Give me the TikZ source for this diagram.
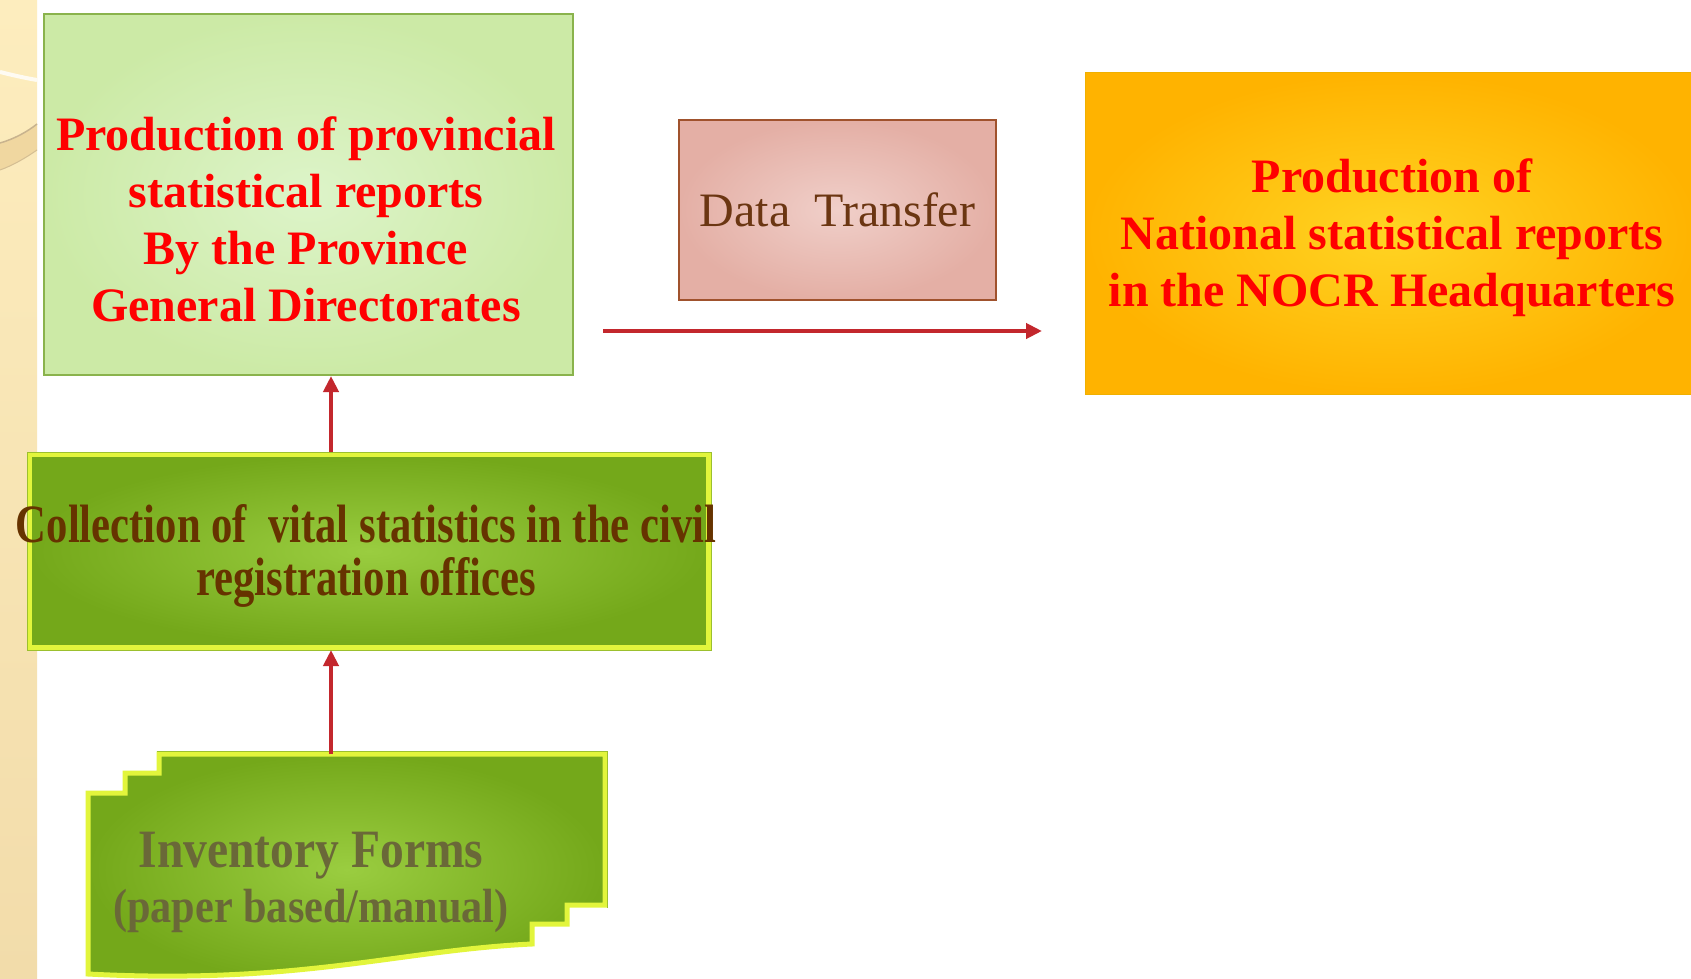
\documentclass[tikz,border=0pt]{standalone}
\usepackage{fontspec}
\setmainfont{Liberation Serif}
\newfontfamily\collfont{Liberation Serif}[FakeStretch=0.79]
\newfontfamily\invfont{Liberation Serif}[FakeStretch=0.88]
\usetikzlibrary{arrows.meta}
\definecolor{stripTop}{HTML}{FDEDBE}
\definecolor{stripBot}{HTML}{F2DCAA}
\definecolor{bandTan}{HTML}{F0D7A0}
\definecolor{bandEdge}{HTML}{C8B38E}
\definecolor{provIn}{HTML}{DDF4C9}
\definecolor{provOut}{HTML}{CCEAA6}
\definecolor{provEdge}{HTML}{8AB34C}
\definecolor{dtIn}{HTML}{F0CFC9}
\definecolor{dtOut}{HTML}{E4AFA5}
\definecolor{dtEdge}{HTML}{A0522D}
\definecolor{dtText}{HTML}{6B3612}
\definecolor{orIn}{HTML}{FFD423}
\definecolor{orOut}{HTML}{FFB300}
\definecolor{orEdge}{HTML}{F0B000}
\definecolor{grIn}{HTML}{9ACD40}
\definecolor{grOut}{HTML}{74A81A}
\definecolor{grBevel}{HTML}{E2F53C}
\definecolor{grEdge}{HTML}{9CC02E}
\definecolor{collText}{HTML}{663300}
\definecolor{invText}{HTML}{6A6838}
\definecolor{arrowRed}{HTML}{C3272D}
\definecolor{titleRed}{HTML}{FF0000}
\begin{document}
\begin{tikzpicture}[x=1pt,y=-1pt,
  conn/.style={draw=arrowRed, line width=4pt, -{Triangle[length=16pt,width=15pt]}},
  provbox/.style={shading=radial, inner color=provIn, outer color=provOut, draw=provEdge, line width=2pt, minimum width=529pt, minimum height=361pt, inner sep=0pt},
  redtext/.style={text=titleRed, font=\fontsize{48}{57}\selectfont\bfseries, align=center, inner sep=0pt},
  dtbox/.style={shading=radial, inner color=dtIn, outer color=dtOut, draw=dtEdge, line width=2pt, minimum width=317pt, minimum height=180pt, inner sep=0pt, text=dtText, font=\fontsize{48}{56}\selectfont},
  orbox/.style={shading=radial, inner color=orIn, outer color=orOut, draw=orEdge, line width=1.5pt, minimum width=614pt, minimum height=322pt, inner sep=0pt},
  greenbox/.style={shading=radial, inner color=grIn, outer color=grOut, draw=grBevel, line width=5pt, inner sep=0pt},
  greenedge/.style={draw=grEdge, line width=1pt},
  colltext/.style={text=collText, font=\fontsize{54}{53}\selectfont\collfont\bfseries, align=center, inner sep=0pt},
  invtext/.style={text=invText, font=\fontsize{48}{55}\selectfont\invfont\bfseries, align=center, inner sep=0pt}
]
\useasboundingbox (0,0) rectangle (1691,979);
\clip (0,0) rectangle (1691,979);
\fill[white] (0,0) rectangle (1691,979);
% left decorative strip
\shade[top color=stripTop, bottom color=stripBot] (0,0) rectangle (37,979);
\draw[white!80!stripTop, line width=4pt] (0,72) .. controls (12,75) and (25,78) .. (37,80);
\fill[bandTan] (0,143) .. controls (14,139) and (27,132) .. (37,124) -- (37,150) .. controls (27,157) and (14,165) .. (0,170) -- cycle;
\draw[bandEdge, line width=1.5pt] (0,143) .. controls (14,139) and (27,132) .. (37,124);
\draw[bandEdge!70!bandTan, line width=1pt] (0,170) .. controls (14,165) and (27,157) .. (37,150);

% provincial box
\node[provbox] (prov) at (308.5,194.5) {};
\node[redtext] (provtxt) at (306,219) {Production of provincial\\statistical reports\\By the Province\\General Directorates};

% data transfer
\node[dtbox] (dt) at (837.5,210) {Data\ \ Transfer};

% national box
\node[orbox] (nat) at (1392.5,233.5) {};
\node[redtext] (nattxt) at (1392,238) {Production of\\National statistical reports\\in the NOCR Headquarters};

% collection box
\node[greenbox, minimum width=679pt, minimum height=193pt] (coll) at (369,551) {};
\draw[greenedge] (coll.north west) rectangle (coll.south east);
\node[colltext] (colltxt) at (366,556) {Collection of\ \ vital statistics in the civil\\registration offices};

% inventory multi-document shape
\path[greenbox] (159,754) -- (605,754) -- (605,905) -- (567,905) -- (567,924) -- (532,924) -- (532,944)
  .. controls (400,950) and (300,985) .. (88,974) -- (88,793) -- (125,793) -- (125,773) -- (159,773) -- cycle;
\draw[greenedge] (156.5,751.5) -- (607.5,751.5) -- (607.5,907.5);
\node[invtext] (invtxt) at (311,882) {{\fontsize{54}{55}\selectfont Inventory Forms}\\(paper based/manual)};
\coordinate (invtop) at (331,754);

% connectors
\draw[conn] ([xshift=-38pt]coll.north) -- ([xshift=22.5pt]prov.south);
\draw[conn] (invtop) -- ([xshift=-38pt]coll.south);
\coordinate (hstart) at (603,331);
\coordinate (hend) at (1042,331);
\draw[conn] (hstart) -- (hend);
\end{tikzpicture}
\end{document}
